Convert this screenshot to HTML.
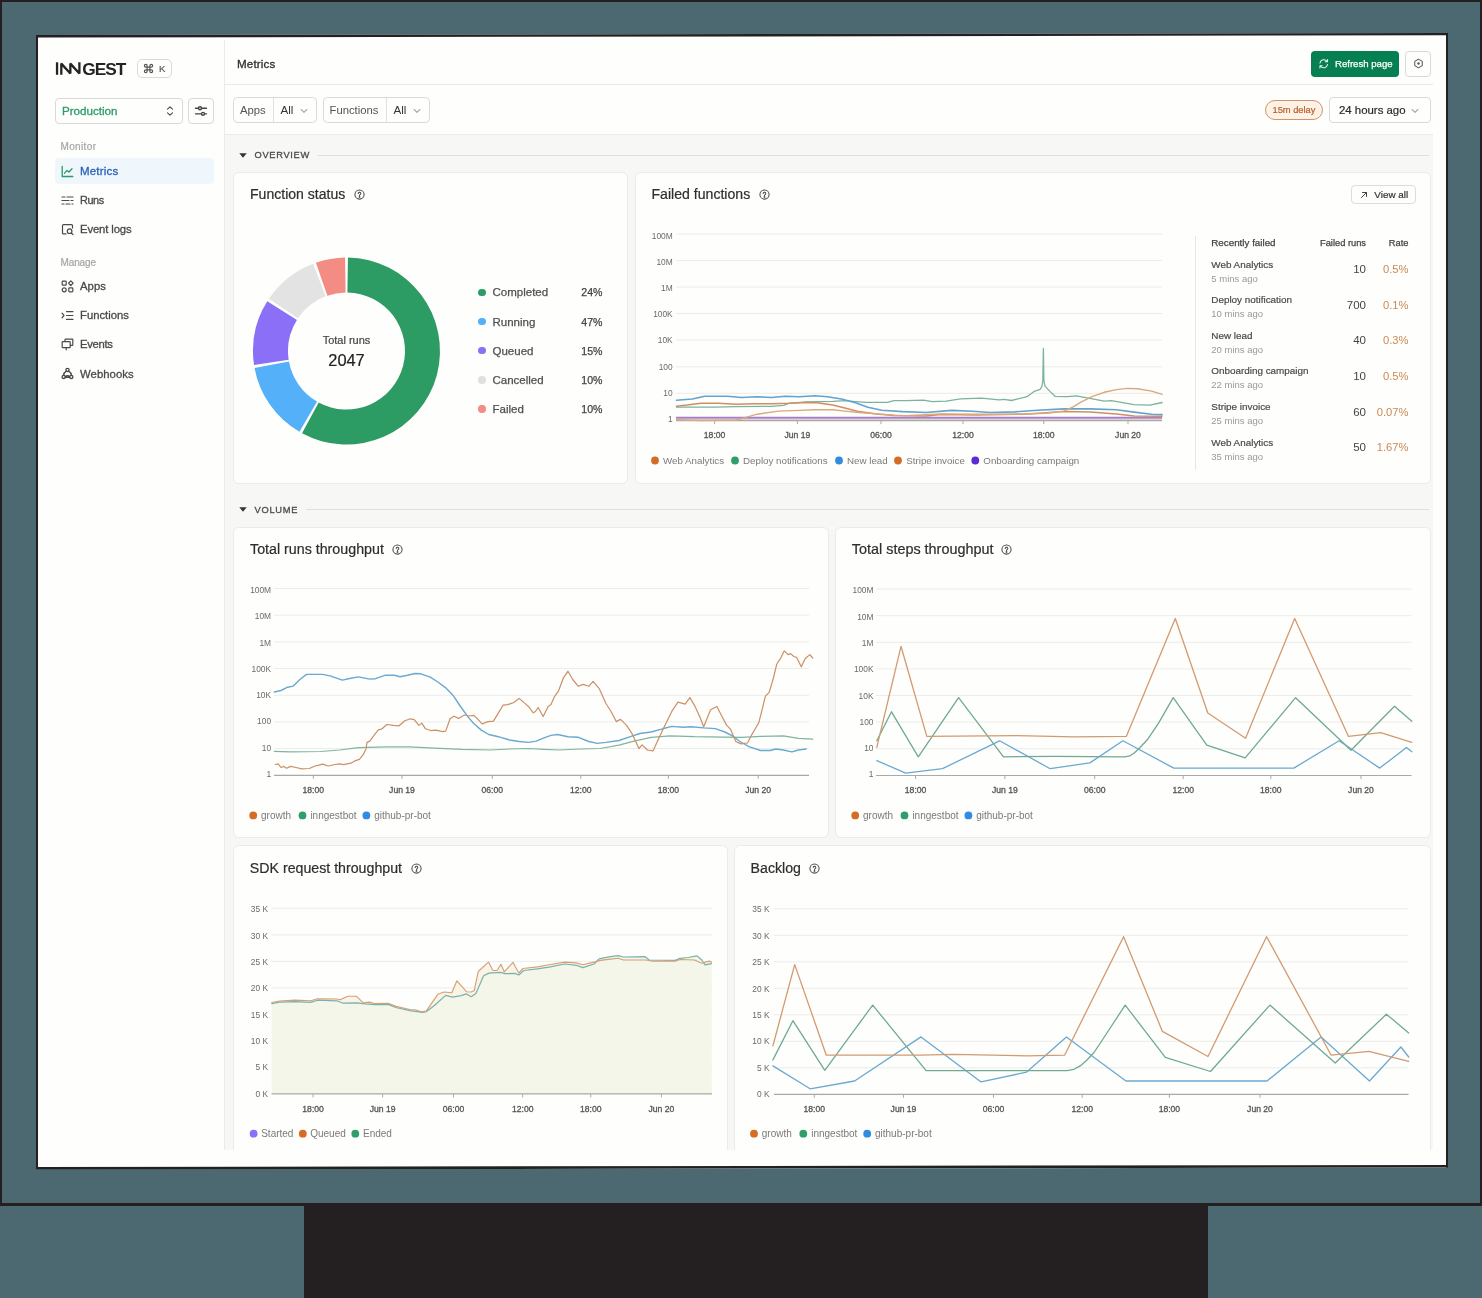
<!DOCTYPE html>
<html><head><meta charset="utf-8"><title>Metrics</title>
<style>
html,body{margin:0;padding:0;}
body{will-change:transform;width:1482px;height:1298px;overflow:hidden;background:#4c6972;font-family:"Liberation Sans",sans-serif;position:relative;}
div{box-sizing:border-box;}
svg text{font-family:"Liberation Sans",sans-serif;}
</style></head><body>
<div style="position:absolute;left:0px;top:0px;width:1482px;height:1206px;border:2px solid #242021;border-bottom-width:3px;background:#4c6972;"></div>
<div style="position:absolute;left:304px;top:1206px;width:904px;height:92px;background:#242021;"></div>
<div style="position:absolute;left:36px;top:33px;width:1412px;height:1136px;border-left:2px solid #242021;border-right:2px solid #242021;background:#fefefc;"></div>
<svg style="position:absolute;left:0;top:0" width="1482" height="1298" viewBox="0 0 1482 1298"><path d="M36 32.500L1448 32.500L1448 33L36 35.100Z" fill="#4c6972"/><path d="M36 35.100L1448 33L1448 35.300L36 37.600Z" fill="#242021"/><path d="M36 1167L1448 1165L1448 1167.600L36 1169.600Z" fill="#242021"/><path d="M36 1169.600L1448 1167.600L1448 1170L36 1170Z" fill="#4c6972"/></svg>
<div style="position:absolute;left:224px;top:40px;width:1px;height:1110px;background:#ebebe9;"></div>
<div style="position:absolute;left:225px;top:84px;width:1208px;height:1px;background:#e9e9e7;"></div>
<div style="position:absolute;left:225px;top:135px;width:1208px;height:1015px;background:#f7f7f6;"></div>
<div style="position:absolute;left:225px;top:134px;width:1208px;height:1px;background:#ececea;"></div>
<svg style="position:absolute;left:0;top:0" width="140" height="90" viewBox="0 0 140 90" fill="none" stroke="#232323" stroke-width="2.3" stroke-linejoin="miter" stroke-miterlimit="2"><path d="M57.050 62.300V74.800"/><path d="M61.300 74.800V63.600L70.350 73.500L70.350 63.600L79.400 73.500V62.300"/></svg>
<div style="position:absolute;left:82.2px;top:56.70px;height:24px;line-height:24px;font-size:17.3px;color:#232323;font-weight:700;white-space:nowrap;letter-spacing:-1.0px;">GEST</div>
<div style="position:absolute;left:136.5px;top:58.8px;width:35.5px;height:19.7px;border:1px solid #d9d9d7;border-radius:5px;background:#fefefc;"></div>
<svg style="position:absolute;left:143.200px;top:63.400px" width="11" height="11" viewBox="0 0 24 24" fill="none" stroke="#555" stroke-width="2.500"><path d="M9 9h6v6H9zM9 9V6a3 3 0 1 0-3 3h3zm6 0V6a3 3 0 1 1 3 3h-3zm0 6v3a3 3 0 1 0 3-3h-3zm-6 0v3a3 3 0 1 1-3-3h3z"/></svg>
<div style="position:absolute;left:159px;top:61.70px;height:14px;line-height:14px;font-size:9.6px;color:#606060;font-weight:400;white-space:nowrap;-webkit-text-stroke:0.2px #606060;">K</div>
<div style="position:absolute;left:55px;top:98px;width:128px;height:25.6px;border:1px solid #d9d9d7;border-radius:4px;background:#fefefc;"></div>
<div style="position:absolute;left:62px;top:103.30px;height:16px;line-height:16px;font-size:11.6px;color:#2a9a68;font-weight:400;white-space:nowrap;-webkit-text-stroke:0.3px #2a9a68;">Production</div>
<svg style="position:absolute;left:164.600px;top:105px" width="10" height="12" viewBox="0 0 10 12" fill="none" stroke="#4a4a4a" stroke-width="1.1" stroke-linecap="round" stroke-linejoin="round"><path d="M2.5 4.2 5 1.8l2.5 2.4M2.5 7.8 5 10.2l2.5-2.4"/></svg>
<div style="position:absolute;left:188px;top:98px;width:25.6px;height:25.6px;border:1px solid #d9d9d7;border-radius:4px;background:#fefefc;"></div>
<svg style="position:absolute;left:194px;top:104px" width="14" height="14" viewBox="0 0 14 14" fill="none" stroke="#444" stroke-width="1.35" stroke-linecap="round"><path d="M1.5 4.2h3M7.5 4.2h5M1.5 9.8h6M10.5 9.8h2"/><circle cx="6" cy="4.2" r="1.5"/><circle cx="9" cy="9.8" r="1.5"/></svg>
<div style="position:absolute;left:60.5px;top:140.30px;height:14px;line-height:14px;font-size:10px;color:#a5a5a5;font-weight:400;white-space:nowrap;letter-spacing:0.359px;-webkit-text-stroke:0.2px #a5a5a5;">Monitor</div>
<div style="position:absolute;left:55px;top:158px;width:159px;height:26px;background:#eff6fc;border-radius:4px;"></div>
<div style="position:absolute;left:80px;top:163.00px;height:16px;line-height:16px;font-size:11.5px;color:#2a62b8;font-weight:400;white-space:nowrap;letter-spacing:0.191px;-webkit-text-stroke:0.3px #2a62b8;">Metrics</div>
<div style="position:absolute;left:80px;top:192.10px;height:16px;line-height:16px;font-size:10.9px;color:#4a4a4a;font-weight:400;white-space:nowrap;letter-spacing:-0.415px;-webkit-text-stroke:0.3px #4a4a4a;">Runs</div>
<div style="position:absolute;left:80px;top:221.40px;height:16px;line-height:16px;font-size:11.3px;color:#4a4a4a;font-weight:400;white-space:nowrap;letter-spacing:-0.13px;-webkit-text-stroke:0.3px #4a4a4a;">Event logs</div>
<div style="position:absolute;left:60.5px;top:255.60px;height:14px;line-height:14px;font-size:10px;color:#a5a5a5;font-weight:400;white-space:nowrap;letter-spacing:-0.128px;-webkit-text-stroke:0.2px #a5a5a5;">Manage</div>
<div style="position:absolute;left:80px;top:278.10px;height:16px;line-height:16px;font-size:11.3px;color:#4a4a4a;font-weight:400;white-space:nowrap;letter-spacing:0.081px;-webkit-text-stroke:0.3px #4a4a4a;">Apps</div>
<div style="position:absolute;left:80px;top:307.20px;height:16px;line-height:16px;font-size:11.3px;color:#4a4a4a;font-weight:400;white-space:nowrap;letter-spacing:0.001px;-webkit-text-stroke:0.3px #4a4a4a;">Functions</div>
<div style="position:absolute;left:80px;top:336.40px;height:16px;line-height:16px;font-size:11.3px;color:#4a4a4a;font-weight:400;white-space:nowrap;letter-spacing:-0.309px;-webkit-text-stroke:0.3px #4a4a4a;">Events</div>
<div style="position:absolute;left:80px;top:365.50px;height:16px;line-height:16px;font-size:11.3px;color:#4a4a4a;font-weight:400;white-space:nowrap;letter-spacing:0.074px;-webkit-text-stroke:0.3px #4a4a4a;">Webhooks</div>
<svg style="position:absolute;left:61px;top:164.5px" width="13" height="13" viewBox="0 0 13 13" fill="none" stroke="#2a9a68" stroke-width="1.3" stroke-linecap="round" stroke-linejoin="round"><path d="M1.2 1.5v10h10.6"/><path d="M3.6 8.2 6 5.4l2 1.6 3-3.2"/></svg>
<svg style="position:absolute;left:61px;top:193.6px" width="13" height="13" viewBox="0 0 13 13" fill="none" stroke="#4a4a4a" stroke-width="1.2" stroke-linecap="round" stroke-linejoin="round"><path d="M1 3h3M6 3h6M1 6.5h7M10 6.5h2M1 10h2M5 10h4M11 10h1"/></svg>
<svg style="position:absolute;left:61px;top:222.9px" width="13" height="13" viewBox="0 0 13 13" fill="none" stroke="#4a4a4a" stroke-width="1.2" stroke-linecap="round" stroke-linejoin="round"><path d="M11.5 5V2.6a1 1 0 0 0-1-1h-8a1 1 0 0 0-1 1v7.3a1 1 0 0 0 1 1H5"/><circle cx="8.6" cy="8.2" r="2.3"/><path d="m10.4 10 1.6 1.6"/></svg>
<svg style="position:absolute;left:61px;top:279.6px" width="13" height="13" viewBox="0 0 13 13" fill="none" stroke="#4a4a4a" stroke-width="1.2" stroke-linecap="round" stroke-linejoin="round"><rect x="1.2" y="1.2" width="4" height="4" rx="0.8"/><path d="M9.800 0.900 12.100 3.200 9.800 5.500 7.500 3.200z"/><circle cx="3.2" cy="9.800" r="2"/><rect x="7.8" y="7.8" width="4" height="4" rx="0.8"/></svg>
<svg style="position:absolute;left:61px;top:308.7px" width="13" height="13" viewBox="0 0 13 13" fill="none" stroke="#4a4a4a" stroke-width="1.2" stroke-linecap="round" stroke-linejoin="round"><path d="m1 4.2 2 2.3-2 2.3M5.5 2.6H12M5.5 6.5H12M5.5 10.4H12"/></svg>
<svg style="position:absolute;left:61px;top:337.9px" width="13" height="13" viewBox="0 0 13 13" fill="none" stroke="#4a4a4a" stroke-width="1.2" stroke-linecap="round" stroke-linejoin="round"><path d="M4 3V1.8a.6.6 0 0 1 .6-.6h6.6a.6.6 0 0 1 .6.6v5a.6.6 0 0 1-.6.6H9.5"/><rect x="1.2" y="3.6" width="8" height="6" rx="0.7"/><path d="M5.2 9.6v2.2"/></svg>
<svg style="position:absolute;left:61px;top:366.5px" width="13" height="13" viewBox="0 0 13 13" fill="none" stroke="#4a4a4a" stroke-width="1.35" stroke-linecap="round" stroke-linejoin="round"><circle cx="6.5" cy="2.9" r="1.6"/><circle cx="2.7" cy="9.9" r="1.6"/><circle cx="10.3" cy="9.9" r="1.6"/><path d="M5.4 4.2C3.6 5.2 2.7 6.600 2.7 8.3M7.6 4.2C9.4 5.2 10.3 6.600 10.3 8.3M4.3 9.9C5.5 8.3 7.5 8.3 8.7 9.9M4.3 10.3h4.4"/></svg>
<div style="position:absolute;left:237px;top:56.30px;height:16px;line-height:16px;font-size:11.6px;color:#2e2e2e;font-weight:400;white-space:nowrap;letter-spacing:0.154px;-webkit-text-stroke:0.3px #2e2e2e;">Metrics</div>
<div style="position:absolute;left:1311px;top:51px;width:88px;height:26px;background:#067f52;border-radius:4px;"></div>
<svg style="position:absolute;left:1317.5px;top:58px" width="11.500" height="11.500" viewBox="0 0 12 12" fill="none" stroke="#e8f5ee" stroke-width="1.05" stroke-linecap="round" stroke-linejoin="round"><path d="M2 5.300A4.100 4.100 0 0 1 9.500 3.700M10 1.600v2.300H7.700M10 6.700A4.100 4.100 0 0 1 2.500 8.300M2 10.400V8.100h2.300"/></svg>
<div style="position:absolute;left:1335px;top:57.20px;height:14px;line-height:14px;font-size:9.6px;color:#fff;font-weight:400;white-space:nowrap;-webkit-text-stroke:0.25px #fff;">Refresh page</div>
<div style="position:absolute;left:1405px;top:50.7px;width:26px;height:26px;border:1px solid #d9d9d7;border-radius:4px;background:#fefefc;"></div>
<svg style="position:absolute;left:1412.500px;top:58.200px" width="11" height="11" viewBox="0 0 24 24" fill="none" stroke="#555" stroke-width="2.2" stroke-linejoin="round"><path d="M12 2.500 20.200 7.250v9.500L12 21.500 3.800 16.750v-9.500z"/><circle cx="12" cy="12" r="2.600" fill="#555" stroke="none"/></svg>
<div style="position:absolute;left:233px;top:97.3px;width:83.5px;height:25.5px;border:1px solid #d9d9d7;border-radius:4.5px;background:#fefefc;"></div>
<div style="position:absolute;left:272.5px;top:98.3px;width:1px;height:23.5px;background:#e0e0de;"></div>
<div style="position:absolute;left:240px;top:102.30px;height:16px;line-height:16px;font-size:11.3px;color:#555;font-weight:400;white-space:nowrap;">Apps</div>
<div style="position:absolute;left:280.5px;top:102.30px;height:16px;line-height:16px;font-size:11.6px;color:#333;font-weight:400;white-space:nowrap;">All</div>
<svg style="position:absolute;left:299.5px;top:107.5px" width="8" height="6" viewBox="0 0 8 6" fill="none" stroke="#a8a8a8" stroke-width="1.1" stroke-linecap="round" stroke-linejoin="round"><path d="M1.2 1.500 4 4.300l2.800-2.800"/></svg>
<div style="position:absolute;left:322.5px;top:97.3px;width:107px;height:25.5px;border:1px solid #d9d9d7;border-radius:4.5px;background:#fefefc;"></div>
<div style="position:absolute;left:385.5px;top:98.3px;width:1px;height:23.5px;background:#e0e0de;"></div>
<div style="position:absolute;left:329.5px;top:102.30px;height:16px;line-height:16px;font-size:11.3px;color:#555;font-weight:400;white-space:nowrap;">Functions</div>
<div style="position:absolute;left:393.5px;top:102.30px;height:16px;line-height:16px;font-size:11.6px;color:#333;font-weight:400;white-space:nowrap;">All</div>
<svg style="position:absolute;left:412.5px;top:107.5px" width="8" height="6" viewBox="0 0 8 6" fill="none" stroke="#a8a8a8" stroke-width="1.1" stroke-linecap="round" stroke-linejoin="round"><path d="M1.2 1.500 4 4.300l2.800-2.800"/></svg>
<div style="position:absolute;left:1265.3px;top:100.3px;width:58px;height:19.6px;border:1.4px solid #cf9468;border-radius:10px;background:#fdf2e5;"></div>
<div style="position:absolute;left:1272.5px;top:103.20px;height:14px;line-height:14px;font-size:9.3px;color:#b5612a;font-weight:400;white-space:nowrap;-webkit-text-stroke:0.2px #b5612a;">15m delay</div>
<div style="position:absolute;left:1329px;top:97px;width:102px;height:26px;border:1px solid #d9d9d7;border-radius:4px;background:#fefefc;"></div>
<div style="position:absolute;left:1339px;top:102.30px;height:16px;line-height:16px;font-size:11.4px;color:#2b2b2b;font-weight:400;white-space:nowrap;-webkit-text-stroke:0.2px #2b2b2b;">24 hours ago</div>
<svg style="position:absolute;left:1411px;top:107.500px" width="8" height="6" viewBox="0 0 8 6" fill="none" stroke="#a8a8a8" stroke-width="1.1" stroke-linecap="round" stroke-linejoin="round"><path d="M1.2 1.500 4 4.300l2.800-2.800"/></svg>
<svg style="position:absolute;left:239px;top:152.7px" width="8" height="5" viewBox="0 0 8 5"><path d="M0.300 0.300h7.400L4 4.700z" fill="#333"/></svg>
<div style="position:absolute;left:254.5px;top:148.20px;height:14px;line-height:14px;font-size:9.3px;color:#4a4a4a;font-weight:400;white-space:nowrap;letter-spacing:0.692px;-webkit-text-stroke:0.3px #4a4a4a;">OVERVIEW</div>
<div style="position:absolute;left:318px;top:154.6px;width:1111px;height:1px;background:#dfdfdd;"></div>
<svg style="position:absolute;left:239px;top:507.0px" width="8" height="5" viewBox="0 0 8 5"><path d="M0.300 0.300h7.400L4 4.700z" fill="#333"/></svg>
<div style="position:absolute;left:254.5px;top:502.50px;height:14px;line-height:14px;font-size:9.3px;color:#4a4a4a;font-weight:400;white-space:nowrap;letter-spacing:0.745px;-webkit-text-stroke:0.3px #4a4a4a;">VOLUME</div>
<div style="position:absolute;left:306px;top:508.9px;width:1123px;height:1px;background:#dfdfdd;"></div>
<div style="position:absolute;left:233px;top:172px;width:395px;height:312px;border:1px solid #ebebe9;border-radius:6px;background:#fefefc;"></div>
<div style="position:absolute;left:635px;top:172px;width:796px;height:312px;border:1px solid #ebebe9;border-radius:6px;background:#fefefc;"></div>
<div style="position:absolute;left:233px;top:527px;width:595.5px;height:311px;border:1px solid #ebebe9;border-radius:6px;background:#fefefc;"></div>
<div style="position:absolute;left:835px;top:527px;width:596px;height:311px;border:1px solid #ebebe9;border-radius:6px;background:#fefefc;"></div>
<div style="position:absolute;left:233px;top:845px;width:495px;height:305px;border:1px solid #ebebe9;border-bottom:none;border-radius:6px 6px 0 0;background:#fefefc;"></div>
<div style="position:absolute;left:734px;top:845px;width:697px;height:305px;border:1px solid #ebebe9;border-bottom:none;border-radius:6px 6px 0 0;background:#fefefc;"></div>
<div style="position:absolute;left:250px;top:184.00px;height:20px;line-height:20px;font-size:14.05px;color:#2e2e2e;font-weight:400;white-space:nowrap;-webkit-text-stroke:0.2px #2e2e2e;">Function status</div>
<svg style="position:absolute;left:354.0px;top:189.0px" width="11" height="11" viewBox="0 0 11 11" fill="none" stroke="#4a4a4a" stroke-width="1.05"><circle cx="5.500" cy="5.500" r="4.600"/><path d="M4.200 4.500a1.300 1.300 0 1 1 1.900 1.150c-.4.230-.6.500-.6.900" stroke-linecap="round"/><circle cx="5.500" cy="7.900" r="0.400" fill="#4a4a4a"/></svg>
<div style="position:absolute;left:651.5px;top:184.00px;height:20px;line-height:20px;font-size:14.1px;color:#2e2e2e;font-weight:400;white-space:nowrap;-webkit-text-stroke:0.2px #2e2e2e;">Failed functions</div>
<svg style="position:absolute;left:758.5px;top:189.0px" width="11" height="11" viewBox="0 0 11 11" fill="none" stroke="#4a4a4a" stroke-width="1.05"><circle cx="5.500" cy="5.500" r="4.600"/><path d="M4.200 4.500a1.300 1.300 0 1 1 1.900 1.150c-.4.230-.6.500-.6.900" stroke-linecap="round"/><circle cx="5.500" cy="7.900" r="0.400" fill="#4a4a4a"/></svg>
<div style="position:absolute;left:250px;top:539.00px;height:20px;line-height:20px;font-size:14.25px;color:#2e2e2e;font-weight:400;white-space:nowrap;-webkit-text-stroke:0.2px #2e2e2e;">Total runs throughput</div>
<svg style="position:absolute;left:391.5px;top:544.0px" width="11" height="11" viewBox="0 0 11 11" fill="none" stroke="#4a4a4a" stroke-width="1.05"><circle cx="5.500" cy="5.500" r="4.600"/><path d="M4.200 4.500a1.300 1.300 0 1 1 1.900 1.150c-.4.230-.6.500-.6.900" stroke-linecap="round"/><circle cx="5.500" cy="7.900" r="0.400" fill="#4a4a4a"/></svg>
<div style="position:absolute;left:851.8px;top:539.00px;height:20px;line-height:20px;font-size:14.4px;color:#2e2e2e;font-weight:400;white-space:nowrap;-webkit-text-stroke:0.2px #2e2e2e;">Total steps throughput</div>
<svg style="position:absolute;left:1001.0px;top:544.0px" width="11" height="11" viewBox="0 0 11 11" fill="none" stroke="#4a4a4a" stroke-width="1.05"><circle cx="5.500" cy="5.500" r="4.600"/><path d="M4.200 4.500a1.300 1.300 0 1 1 1.900 1.150c-.4.230-.6.500-.6.900" stroke-linecap="round"/><circle cx="5.500" cy="7.900" r="0.400" fill="#4a4a4a"/></svg>
<div style="position:absolute;left:249.8px;top:858.00px;height:20px;line-height:20px;font-size:14.2px;color:#2e2e2e;font-weight:400;white-space:nowrap;-webkit-text-stroke:0.2px #2e2e2e;">SDK request throughput</div>
<svg style="position:absolute;left:410.5px;top:863.0px" width="11" height="11" viewBox="0 0 11 11" fill="none" stroke="#4a4a4a" stroke-width="1.05"><circle cx="5.500" cy="5.500" r="4.600"/><path d="M4.200 4.500a1.300 1.300 0 1 1 1.900 1.150c-.4.230-.6.500-.6.900" stroke-linecap="round"/><circle cx="5.500" cy="7.900" r="0.400" fill="#4a4a4a"/></svg>
<div style="position:absolute;left:750.6px;top:858.00px;height:20px;line-height:20px;font-size:14.15px;color:#2e2e2e;font-weight:400;white-space:nowrap;-webkit-text-stroke:0.2px #2e2e2e;">Backlog</div>
<svg style="position:absolute;left:809.0px;top:863.0px" width="11" height="11" viewBox="0 0 11 11" fill="none" stroke="#4a4a4a" stroke-width="1.05"><circle cx="5.500" cy="5.500" r="4.600"/><path d="M4.200 4.500a1.300 1.300 0 1 1 1.900 1.150c-.4.230-.6.500-.6.900" stroke-linecap="round"/><circle cx="5.500" cy="7.900" r="0.400" fill="#4a4a4a"/></svg>
<div style="position:absolute;left:1351px;top:185px;width:64.5px;height:19px;border:1px solid #dcdcda;border-radius:4px;background:#fefefc;"></div>
<svg style="position:absolute;left:1360px;top:190.500px" width="8" height="8" viewBox="0 0 8 8" fill="none" stroke="#444" stroke-width="1" stroke-linecap="round" stroke-linejoin="round"><path d="M1.500 6.500 6.500 1.500M2.500 1.500h4v4"/></svg>
<div style="position:absolute;left:1374.3px;top:187.50px;height:14px;line-height:14px;font-size:9.9px;color:#333;font-weight:400;white-space:nowrap;-webkit-text-stroke:0.2px #333;">View all</div>
<svg style="position:absolute;left:0;top:0" width="1482" height="1298" viewBox="0 0 1482 1298"><path d="M347.97 257.51A93.5 93.5 0 1 1 302.03 433.25L318.68 402.46A58.5 58.5 0 1 0 347.42 292.51Z" fill="#2d9b64"/><path d="M299.47 431.81A93.5 93.5 0 0 1 254.54 367.88L288.96 361.56A58.5 58.5 0 0 0 317.07 401.56Z" fill="#54b0f8"/><path d="M254.05 364.98A93.5 93.5 0 0 1 267.29 301.31L296.94 319.91A58.5 58.5 0 0 0 288.66 359.75Z" fill="#8b6ff6"/><path d="M268.89 298.85A93.5 93.5 0 0 1 313.14 263.65L325.63 296.35A58.5 58.5 0 0 0 297.94 318.37Z" fill="#e3e3e3"/><path d="M315.91 262.65A93.5 93.5 0 0 1 345.03 257.51L345.58 292.51A58.5 58.5 0 0 0 327.36 295.72Z" fill="#f38d84"/></svg>
<div style="position:absolute;left:146.5px;width:400px;text-align:center;top:332.00px;height:16px;line-height:16px;font-size:11px;color:#444;font-weight:400;white-space:nowrap;-webkit-text-stroke:0.2px #444;">Total runs</div>
<div style="position:absolute;left:146.5px;width:400px;text-align:center;top:348.50px;height:22px;line-height:22px;font-size:16.4px;color:#222;font-weight:400;white-space:nowrap;-webkit-text-stroke:0.2px #222;">2047</div>
<div style="position:absolute;left:478.3px;top:288.8px;width:7.4px;height:7.4px;background:#2d9b64;border-radius:50%;"></div>
<div style="position:absolute;left:492.5px;top:284.40px;height:16px;line-height:16px;font-size:11.5px;color:#505050;font-weight:400;white-space:nowrap;-webkit-text-stroke:0.25px #505050;">Completed</div>
<div style="position:absolute;right:879.5px;top:285.40px;height:14px;line-height:14px;font-size:10.6px;color:#444;font-weight:400;white-space:nowrap;-webkit-text-stroke:0.25px #444;">24%</div>
<div style="position:absolute;left:478.3px;top:317.95px;width:7.4px;height:7.4px;background:#54b0f8;border-radius:50%;"></div>
<div style="position:absolute;left:492.5px;top:313.60px;height:16px;line-height:16px;font-size:11.5px;color:#505050;font-weight:400;white-space:nowrap;-webkit-text-stroke:0.25px #505050;">Running</div>
<div style="position:absolute;right:879.5px;top:314.60px;height:14px;line-height:14px;font-size:10.6px;color:#444;font-weight:400;white-space:nowrap;-webkit-text-stroke:0.25px #444;">47%</div>
<div style="position:absolute;left:478.3px;top:347.1px;width:7.4px;height:7.4px;background:#8b6ff6;border-radius:50%;"></div>
<div style="position:absolute;left:492.5px;top:342.60px;height:16px;line-height:16px;font-size:11.5px;color:#505050;font-weight:400;white-space:nowrap;-webkit-text-stroke:0.25px #505050;">Queued</div>
<div style="position:absolute;right:879.5px;top:343.60px;height:14px;line-height:14px;font-size:10.6px;color:#444;font-weight:400;white-space:nowrap;-webkit-text-stroke:0.25px #444;">15%</div>
<div style="position:absolute;left:478.3px;top:376.25px;width:7.4px;height:7.4px;background:#e0e0e0;border-radius:50%;"></div>
<div style="position:absolute;left:492.5px;top:372.00px;height:16px;line-height:16px;font-size:11.5px;color:#505050;font-weight:400;white-space:nowrap;-webkit-text-stroke:0.25px #505050;">Cancelled</div>
<div style="position:absolute;right:879.5px;top:373.00px;height:14px;line-height:14px;font-size:10.6px;color:#444;font-weight:400;white-space:nowrap;-webkit-text-stroke:0.25px #444;">10%</div>
<div style="position:absolute;left:478.3px;top:405.40000000000003px;width:7.4px;height:7.4px;background:#f38d84;border-radius:50%;"></div>
<div style="position:absolute;left:492.5px;top:401.00px;height:16px;line-height:16px;font-size:11.5px;color:#505050;font-weight:400;white-space:nowrap;-webkit-text-stroke:0.25px #505050;">Failed</div>
<div style="position:absolute;right:879.5px;top:402.00px;height:14px;line-height:14px;font-size:10.6px;color:#444;font-weight:400;white-space:nowrap;-webkit-text-stroke:0.25px #444;">10%</div>
<div style="position:absolute;left:1195px;top:236px;width:1px;height:234px;background:#e6e6e4;"></div>
<div style="position:absolute;left:1211.3px;top:235.80px;height:14px;line-height:14px;font-size:9.8px;color:#444;font-weight:400;white-space:nowrap;-webkit-text-stroke:0.25px #444;">Recently failed</div>
<div style="position:absolute;right:116px;top:235.80px;height:14px;line-height:14px;font-size:9.3px;color:#444;font-weight:400;white-space:nowrap;-webkit-text-stroke:0.25px #444;">Failed runs</div>
<div style="position:absolute;right:73.5px;top:235.80px;height:14px;line-height:14px;font-size:9.3px;color:#444;font-weight:400;white-space:nowrap;-webkit-text-stroke:0.25px #444;">Rate</div>
<div style="position:absolute;left:1211.3px;top:257.60px;height:14px;line-height:14px;font-size:9.9px;color:#4a4a4a;font-weight:400;white-space:nowrap;-webkit-text-stroke:0.2px #4a4a4a;">Web Analytics</div>
<div style="position:absolute;left:1211.3px;top:271.60px;height:14px;line-height:14px;font-size:9.5px;color:#9a9a9a;font-weight:400;white-space:nowrap;">5 mins ago</div>
<div style="position:absolute;right:116px;top:261.20px;height:16px;line-height:16px;font-size:11.5px;color:#444;font-weight:400;white-space:nowrap;">10</div>
<div style="position:absolute;right:73.5px;top:261.20px;height:16px;line-height:16px;font-size:11.2px;color:#c98a58;font-weight:400;white-space:nowrap;">0.5%</div>
<div style="position:absolute;left:1211.3px;top:293.20px;height:14px;line-height:14px;font-size:9.9px;color:#4a4a4a;font-weight:400;white-space:nowrap;-webkit-text-stroke:0.2px #4a4a4a;">Deploy notification</div>
<div style="position:absolute;left:1211.3px;top:307.20px;height:14px;line-height:14px;font-size:9.5px;color:#9a9a9a;font-weight:400;white-space:nowrap;">10 mins ago</div>
<div style="position:absolute;right:116px;top:296.80px;height:16px;line-height:16px;font-size:11.5px;color:#444;font-weight:400;white-space:nowrap;">700</div>
<div style="position:absolute;right:73.5px;top:296.80px;height:16px;line-height:16px;font-size:11.2px;color:#c98a58;font-weight:400;white-space:nowrap;">0.1%</div>
<div style="position:absolute;left:1211.3px;top:328.80px;height:14px;line-height:14px;font-size:9.9px;color:#4a4a4a;font-weight:400;white-space:nowrap;-webkit-text-stroke:0.2px #4a4a4a;">New lead</div>
<div style="position:absolute;left:1211.3px;top:342.80px;height:14px;line-height:14px;font-size:9.5px;color:#9a9a9a;font-weight:400;white-space:nowrap;">20 mins ago</div>
<div style="position:absolute;right:116px;top:332.40px;height:16px;line-height:16px;font-size:11.5px;color:#444;font-weight:400;white-space:nowrap;">40</div>
<div style="position:absolute;right:73.5px;top:332.40px;height:16px;line-height:16px;font-size:11.2px;color:#c98a58;font-weight:400;white-space:nowrap;">0.3%</div>
<div style="position:absolute;left:1211.3px;top:364.40px;height:14px;line-height:14px;font-size:9.9px;color:#4a4a4a;font-weight:400;white-space:nowrap;-webkit-text-stroke:0.2px #4a4a4a;">Onboarding campaign</div>
<div style="position:absolute;left:1211.3px;top:378.40px;height:14px;line-height:14px;font-size:9.5px;color:#9a9a9a;font-weight:400;white-space:nowrap;">22 mins ago</div>
<div style="position:absolute;right:116px;top:368.00px;height:16px;line-height:16px;font-size:11.5px;color:#444;font-weight:400;white-space:nowrap;">10</div>
<div style="position:absolute;right:73.5px;top:368.00px;height:16px;line-height:16px;font-size:11.2px;color:#c98a58;font-weight:400;white-space:nowrap;">0.5%</div>
<div style="position:absolute;left:1211.3px;top:400.00px;height:14px;line-height:14px;font-size:9.9px;color:#4a4a4a;font-weight:400;white-space:nowrap;-webkit-text-stroke:0.2px #4a4a4a;">Stripe invoice</div>
<div style="position:absolute;left:1211.3px;top:414.00px;height:14px;line-height:14px;font-size:9.5px;color:#9a9a9a;font-weight:400;white-space:nowrap;">25 mins ago</div>
<div style="position:absolute;right:116px;top:403.60px;height:16px;line-height:16px;font-size:11.5px;color:#444;font-weight:400;white-space:nowrap;">60</div>
<div style="position:absolute;right:73.5px;top:403.60px;height:16px;line-height:16px;font-size:11.2px;color:#c98a58;font-weight:400;white-space:nowrap;">0.07%</div>
<div style="position:absolute;left:1211.3px;top:435.60px;height:14px;line-height:14px;font-size:9.9px;color:#4a4a4a;font-weight:400;white-space:nowrap;-webkit-text-stroke:0.2px #4a4a4a;">Web Analytics</div>
<div style="position:absolute;left:1211.3px;top:449.60px;height:14px;line-height:14px;font-size:9.5px;color:#9a9a9a;font-weight:400;white-space:nowrap;">35 mins ago</div>
<div style="position:absolute;right:116px;top:439.20px;height:16px;line-height:16px;font-size:11.5px;color:#444;font-weight:400;white-space:nowrap;">50</div>
<div style="position:absolute;right:73.5px;top:439.20px;height:16px;line-height:16px;font-size:11.2px;color:#c98a58;font-weight:400;white-space:nowrap;">1.67%</div><svg style="position:absolute;left:0;top:0" width="1482" height="1298" viewBox="0 0 1482 1298">
<line x1="676" y1="234" x2="1162" y2="234" stroke="#ececea" stroke-width="1"/>
<line x1="676" y1="260.6" x2="1162" y2="260.6" stroke="#ececea" stroke-width="1"/>
<line x1="676" y1="287" x2="1162" y2="287" stroke="#ececea" stroke-width="1"/>
<line x1="676" y1="313.5" x2="1162" y2="313.5" stroke="#ececea" stroke-width="1"/>
<line x1="676" y1="340" x2="1162" y2="340" stroke="#ececea" stroke-width="1"/>
<line x1="676" y1="366.8" x2="1162" y2="366.8" stroke="#ececea" stroke-width="1"/>
<line x1="676" y1="393.3" x2="1162" y2="393.3" stroke="#ececea" stroke-width="1"/>
<line x1="676" y1="420.6" x2="1162" y2="420.6" stroke="#a9a9a9" stroke-width="1.2"/>
<text x="672.7" y="238.70" font-size="8.4" fill="#6a6a6a" text-anchor="end">100M</text>
<text x="672.7" y="264.89" font-size="8.4" fill="#6a6a6a" text-anchor="end">10M</text>
<text x="672.7" y="291.08" font-size="8.4" fill="#6a6a6a" text-anchor="end">1M</text>
<text x="672.7" y="317.27" font-size="8.4" fill="#6a6a6a" text-anchor="end">100K</text>
<text x="672.7" y="343.46" font-size="8.4" fill="#6a6a6a" text-anchor="end">10K</text>
<text x="672.7" y="369.65" font-size="8.4" fill="#6a6a6a" text-anchor="end">100</text>
<text x="672.7" y="395.84" font-size="8.4" fill="#6a6a6a" text-anchor="end">10</text>
<text x="672.7" y="422.03" font-size="8.4" fill="#6a6a6a" text-anchor="end">1</text>
<line x1="714.6" y1="420.6" x2="714.6" y2="424.1" stroke="#a9a9a9" stroke-width="1"/>
<text x="714.6" y="437.8" font-size="8.6" fill="#555" text-anchor="middle" stroke="#555" stroke-width="0.3">18:00</text>
<line x1="797.4" y1="420.6" x2="797.4" y2="424.1" stroke="#a9a9a9" stroke-width="1"/>
<text x="797.4" y="437.8" font-size="8.6" fill="#555" text-anchor="middle" stroke="#555" stroke-width="0.3">Jun 19</text>
<line x1="881" y1="420.6" x2="881" y2="424.1" stroke="#a9a9a9" stroke-width="1"/>
<text x="881" y="437.8" font-size="8.6" fill="#555" text-anchor="middle" stroke="#555" stroke-width="0.3">06:00</text>
<line x1="963" y1="420.6" x2="963" y2="424.1" stroke="#a9a9a9" stroke-width="1"/>
<text x="963" y="437.8" font-size="8.6" fill="#555" text-anchor="middle" stroke="#555" stroke-width="0.3">12:00</text>
<line x1="1043.8" y1="420.6" x2="1043.8" y2="424.1" stroke="#a9a9a9" stroke-width="1"/>
<text x="1043.8" y="437.8" font-size="8.6" fill="#555" text-anchor="middle" stroke="#555" stroke-width="0.3">18:00</text>
<line x1="1128" y1="420.6" x2="1128" y2="424.1" stroke="#a9a9a9" stroke-width="1"/>
<text x="1128" y="437.8" font-size="8.6" fill="#555" text-anchor="middle" stroke="#555" stroke-width="0.3">Jun 20</text>
<line x1="676" y1="417.8" x2="1162" y2="417.8" stroke="#a47bd6" stroke-width="2"/>
<line x1="676" y1="419.2" x2="1162" y2="419.2" stroke="#c9b9a6" stroke-width="0.9"/>
<path d="M676.5 407.2L692.3 407.2L715.1 407.2L736.2 406.7L771.3 406.3L783.5 405.4L788.8 403.3L806.4 401.9L832.7 401.4L845.0 400.7L855.5 401.6L866.0 402.3L887.0 402.3L894.1 400.7L906.0 400.7L923.5 400.2L932.3 401.6L946.4 401.1L960.4 398.8L981.4 398.1L999.0 399.8L1004.2 399.3L1011.3 400.5L1027.0 396.7L1034.1 391.4L1040.2 389.3L1042.0 386.1L1042.8 380.9L1043.4 348.4L1043.9 380.9L1045.0 386.1L1049.9 391.4L1055.1 396.3L1067.4 396.7L1076.2 395.8L1088.5 398.1L1104.2 401.1L1111.3 400.7L1134.0 404.6L1149.9 405.1L1162.1 402.5" fill="none" stroke="#7bb3a0" stroke-width="1.3" stroke-linejoin="round" stroke-linecap="round" opacity="1"/>
<path d="M676.5 400.2L692.3 399.0L704.6 396.3L727.4 396.3L741.4 397.5L757.2 396.7L771.3 397.5L785.3 396.3L799.3 396.7L815.1 395.8L827.4 396.7L841.4 399.0L855.5 402.8L867.8 407.2L881.8 410.2L902.8 411.6L926.0 412.5L951.6 410.4L972.7 411.2L990.2 412.5L1014.8 411.9L1037.6 410.2L1063.9 408.9L1090.2 408.9L1116.5 409.8L1134.0 412.1L1151.6 414.2L1162.1 414.6" fill="none" stroke="#62a3d0" stroke-width="1.6" stroke-linejoin="round" stroke-linecap="round" opacity="1"/>
<path d="M676.5 406.3L687.1 405.1L701.1 403.2L718.6 403.3L736.2 404.2L753.7 403.7L771.3 403.7L788.8 403.3L806.4 402.5L816.9 402.8L832.7 405.1L844.9 408.1L857.2 411.2L876.5 413.9L894.1 415.4L926.0 416.0L941.0 414.6L976.0 415.1L1028.8 413.9L1063.9 411.6L1090.2 412.1L1116.5 413.9L1134.0 416.0L1162.0 416.3" fill="none" stroke="#cf8f62" stroke-width="1.5" stroke-linejoin="round" stroke-linecap="round" opacity="1"/>
<path d="M676.5 419.8L701.1 420.5L736.2 420.0L745.0 417.7L757.2 414.2L778.3 411.1L799.3 410.4L815.1 409.8L832.7 409.8L844.9 411.1L859.0 412.5L876.5 413.9L894.1 415.1L906.0 415.6L941.0 413.9L976.2 414.2L1011.3 414.2L1046.4 413.3L1063.9 411.1L1072.7 407.2L1081.4 401.9L1092.0 396.7L1104.2 392.3L1116.5 389.6L1127.1 388.4L1137.6 388.8L1151.6 391.1L1162.1 394.4" fill="none" stroke="#dba77e" stroke-width="1.4" stroke-linejoin="round" stroke-linecap="round" opacity="1"/>
<circle cx="655" cy="460.5" r="3.9" fill="#d46c25"/>
<text x="663" y="464.2" font-size="9.75" fill="#7a7a7a">Web Analytics</text>
<circle cx="735" cy="460.5" r="3.9" fill="#2f9e6c"/>
<text x="743" y="464.2" font-size="9.75" fill="#7a7a7a">Deploy notifications</text>
<circle cx="839" cy="460.5" r="3.9" fill="#2f8ce0"/>
<text x="847" y="464.2" font-size="9.75" fill="#7a7a7a">New lead</text>
<circle cx="898" cy="460.5" r="3.9" fill="#d46c25"/>
<text x="906.3" y="464.2" font-size="9.75" fill="#7a7a7a">Stripe invoice</text>
<circle cx="975.3" cy="460.5" r="3.9" fill="#5a2bd8"/>
<text x="983.3" y="464.2" font-size="9.75" fill="#7a7a7a">Onboarding campaign</text>
<line x1="274" y1="588.5" x2="809" y2="588.5" stroke="#ececea" stroke-width="1"/>
<line x1="274" y1="615.2" x2="809" y2="615.2" stroke="#ececea" stroke-width="1"/>
<line x1="274" y1="641.9" x2="809" y2="641.9" stroke="#ececea" stroke-width="1"/>
<line x1="274" y1="668.6" x2="809" y2="668.6" stroke="#ececea" stroke-width="1"/>
<line x1="274" y1="695.3" x2="809" y2="695.3" stroke="#ececea" stroke-width="1"/>
<line x1="274" y1="721.9" x2="809" y2="721.9" stroke="#ececea" stroke-width="1"/>
<line x1="274" y1="748.6" x2="809" y2="748.6" stroke="#ececea" stroke-width="1"/>
<line x1="274" y1="775.3" x2="809" y2="775.3" stroke="#a9a9a9" stroke-width="1.2"/>
<text x="271.1" y="593.00" font-size="8.4" fill="#6a6a6a" text-anchor="end">100M</text>
<text x="271.1" y="619.28" font-size="8.4" fill="#6a6a6a" text-anchor="end">10M</text>
<text x="271.1" y="645.56" font-size="8.4" fill="#6a6a6a" text-anchor="end">1M</text>
<text x="271.1" y="671.84" font-size="8.4" fill="#6a6a6a" text-anchor="end">100K</text>
<text x="271.1" y="698.12" font-size="8.4" fill="#6a6a6a" text-anchor="end">10K</text>
<text x="271.1" y="724.40" font-size="8.4" fill="#6a6a6a" text-anchor="end">100</text>
<text x="271.1" y="750.68" font-size="8.4" fill="#6a6a6a" text-anchor="end">10</text>
<text x="271.1" y="776.96" font-size="8.4" fill="#6a6a6a" text-anchor="end">1</text>
<line x1="313.3" y1="775.3" x2="313.3" y2="778.8" stroke="#a9a9a9" stroke-width="1"/>
<text x="313.3" y="792.8" font-size="8.6" fill="#555" text-anchor="middle" stroke="#555" stroke-width="0.3">18:00</text>
<line x1="402" y1="775.3" x2="402" y2="778.8" stroke="#a9a9a9" stroke-width="1"/>
<text x="402" y="792.8" font-size="8.6" fill="#555" text-anchor="middle" stroke="#555" stroke-width="0.3">Jun 19</text>
<line x1="492.3" y1="775.3" x2="492.3" y2="778.8" stroke="#a9a9a9" stroke-width="1"/>
<text x="492.3" y="792.8" font-size="8.6" fill="#555" text-anchor="middle" stroke="#555" stroke-width="0.3">06:00</text>
<line x1="580.8" y1="775.3" x2="580.8" y2="778.8" stroke="#a9a9a9" stroke-width="1"/>
<text x="580.8" y="792.8" font-size="8.6" fill="#555" text-anchor="middle" stroke="#555" stroke-width="0.3">12:00</text>
<line x1="668.4" y1="775.3" x2="668.4" y2="778.8" stroke="#a9a9a9" stroke-width="1"/>
<text x="668.4" y="792.8" font-size="8.6" fill="#555" text-anchor="middle" stroke="#555" stroke-width="0.3">18:00</text>
<line x1="758.2" y1="775.3" x2="758.2" y2="778.8" stroke="#a9a9a9" stroke-width="1"/>
<text x="758.2" y="792.8" font-size="8.6" fill="#555" text-anchor="middle" stroke="#555" stroke-width="0.3">Jun 20</text>
<path d="M274.4 751.3L290.5 751.9L320.7 751.5L339.6 750.0L358.5 747.7L386.8 746.8L409.5 746.8L434.0 748.1L462.4 749.4L490.7 750.0L509.6 749.0L528.5 748.5L544.0 749.4L558.6 750.0L581.2 749.0L600.1 748.5L619.0 745.2L634.1 741.1L651.1 737.3L670.0 735.8L694.6 736.7L722.9 737.1L741.8 737.3L760.7 736.4L783.4 735.8L798.5 738.3L812.7 739.2" fill="none" stroke="#7fb59d" stroke-width="1.25" stroke-linejoin="round" stroke-linecap="round" opacity="1"/>
<path d="M274.4 692.0L281.0 690.5L287.6 687.2L293.3 686.1L299.9 679.5L306.5 674.4L322.6 674.4L330.1 675.9L342.4 680.1L350.9 678.2L358.5 676.9L369.8 679.1L375.5 678.7L384.9 675.3L394.4 675.3L400.0 676.7L407.6 675.3L415.1 673.5L420.8 673.8L430.3 677.2L437.8 682.0L445.4 687.6L452.9 695.2L460.5 706.5L468.0 716.9L473.7 723.5L481.3 730.1L488.8 734.5L498.3 736.7L509.6 740.0L519.1 741.5L528.5 742.4L536.1 741.1L543.4 738.1L551.0 735.4L557.6 734.5L568.0 736.7L578.4 737.3L588.8 741.5L597.3 743.4L605.8 742.4L619.0 740.5L630.4 736.7L639.8 733.5L651.1 732.0L662.5 728.8L671.9 726.4L683.3 727.3L690.8 726.7L704.0 727.9L715.4 728.6L724.8 732.0L732.4 735.8L739.9 741.5L749.4 746.8L760.7 750.5L770.2 750.5L775.8 749.0L783.4 750.0L791.9 751.9L798.5 750.0L806.1 749.0" fill="none" stroke="#6aa9d0" stroke-width="1.4" stroke-linejoin="round" stroke-linecap="round" opacity="1"/>
<path d="M275.3 764.5L278.2 763.8L281.0 767.5L283.8 766.4L286.7 768.3L290.5 766.4L296.1 767.5L301.8 768.9L309.3 768.5L315.0 766.0L318.8 765.1L322.6 764.1L328.2 766.0L334.8 764.5L339.6 763.8L343.4 764.7L350.9 763.2L354.7 760.9L359.4 759.4L363.2 754.7L366.0 749.0L367.0 742.4L369.8 741.1L373.6 735.8L378.3 729.8L382.1 728.8L386.8 724.5L393.4 725.4L399.1 725.8L404.8 720.7L410.4 718.8L414.2 719.7L418.9 725.4L421.8 723.1L425.5 728.8L431.2 730.7L435.9 730.1L442.5 731.6L445.7 731.1L450.1 718.8L453.9 716.3L458.6 718.4L464.3 715.0L469.0 716.0L473.7 715.4L477.5 718.8L482.2 723.9L487.9 721.6L493.5 721.1L498.3 713.1L503.0 705.2L507.7 704.6L513.4 702.7L519.1 698.4L524.7 703.1L529.4 707.5L533.2 712.8L535.5 711.5L538.2 707.5L543.1 716.5L548.2 706.5L551.0 704.6L554.8 696.1L558.6 690.8L563.3 678.2L568.0 671.2L572.7 679.5L578.4 686.3L583.1 684.4L588.8 686.3L593.1 681.4L599.2 688.6L605.8 703.3L611.5 712.2L616.2 721.6L620.5 719.4L626.6 725.4L632.2 733.9L638.9 748.6L642.1 744.9L647.4 750.0L653.0 750.9L658.7 738.6L664.4 726.4L671.9 711.2L678.0 702.2L685.1 704.1L689.9 697.6L694.6 705.6L700.3 717.9L703.7 726.7L710.6 709.7L716.9 706.5L722.0 716.5L726.7 725.4L730.5 729.2L735.8 741.5L740.9 743.9L747.5 743.0L751.3 735.4L755.0 729.2L758.8 722.6L762.2 709.4L765.4 696.1L769.2 692.3L773.0 679.5L776.8 664.0L780.6 658.3L784.3 650.8L788.1 654.6L790.6 653.6L793.8 656.5L796.6 657.4L801.3 666.8L805.1 658.7L809.8 654.6L812.7 658.0" fill="none" stroke="#cb9066" stroke-width="1.2" stroke-linejoin="round" stroke-linecap="round" opacity="1"/>
<circle cx="253.2" cy="815.4" r="3.9" fill="#d46c25"/>
<text x="261" y="819.1" font-size="10.0" fill="#7a7a7a">growth</text>
<circle cx="302.5" cy="815.4" r="3.9" fill="#2f9e6c"/>
<text x="310.4" y="819.1" font-size="10.0" fill="#7a7a7a">inngestbot</text>
<circle cx="366.4" cy="815.4" r="3.9" fill="#2f8ce0"/>
<text x="374.2" y="819.1" font-size="10.0" fill="#7a7a7a">github-pr-bot</text>
<line x1="876" y1="589.1" x2="1411.6" y2="589.1" stroke="#ececea" stroke-width="1"/>
<line x1="876" y1="615.7" x2="1411.6" y2="615.7" stroke="#ececea" stroke-width="1"/>
<line x1="876" y1="642.3" x2="1411.6" y2="642.3" stroke="#ececea" stroke-width="1"/>
<line x1="876" y1="668.9" x2="1411.6" y2="668.9" stroke="#ececea" stroke-width="1"/>
<line x1="876" y1="695.5" x2="1411.6" y2="695.5" stroke="#ececea" stroke-width="1"/>
<line x1="876" y1="722.1" x2="1411.6" y2="722.1" stroke="#ececea" stroke-width="1"/>
<line x1="876" y1="748.8" x2="1411.6" y2="748.8" stroke="#ececea" stroke-width="1"/>
<line x1="876" y1="775.5" x2="1411.6" y2="775.5" stroke="#a9a9a9" stroke-width="1.2"/>
<text x="873.5" y="593.40" font-size="8.4" fill="#6a6a6a" text-anchor="end">100M</text>
<text x="873.5" y="619.68" font-size="8.4" fill="#6a6a6a" text-anchor="end">10M</text>
<text x="873.5" y="645.96" font-size="8.4" fill="#6a6a6a" text-anchor="end">1M</text>
<text x="873.5" y="672.24" font-size="8.4" fill="#6a6a6a" text-anchor="end">100K</text>
<text x="873.5" y="698.52" font-size="8.4" fill="#6a6a6a" text-anchor="end">10K</text>
<text x="873.5" y="724.80" font-size="8.4" fill="#6a6a6a" text-anchor="end">100</text>
<text x="873.5" y="751.08" font-size="8.4" fill="#6a6a6a" text-anchor="end">10</text>
<text x="873.5" y="777.36" font-size="8.4" fill="#6a6a6a" text-anchor="end">1</text>
<line x1="915.6" y1="775.5" x2="915.6" y2="779.0" stroke="#a9a9a9" stroke-width="1"/>
<text x="915.6" y="792.6" font-size="8.6" fill="#555" text-anchor="middle" stroke="#555" stroke-width="0.3">18:00</text>
<line x1="1004.9" y1="775.5" x2="1004.9" y2="779.0" stroke="#a9a9a9" stroke-width="1"/>
<text x="1004.9" y="792.6" font-size="8.6" fill="#555" text-anchor="middle" stroke="#555" stroke-width="0.3">Jun 19</text>
<line x1="1094.7" y1="775.5" x2="1094.7" y2="779.0" stroke="#a9a9a9" stroke-width="1"/>
<text x="1094.7" y="792.6" font-size="8.6" fill="#555" text-anchor="middle" stroke="#555" stroke-width="0.3">06:00</text>
<line x1="1183.2" y1="775.5" x2="1183.2" y2="779.0" stroke="#a9a9a9" stroke-width="1"/>
<text x="1183.2" y="792.6" font-size="8.6" fill="#555" text-anchor="middle" stroke="#555" stroke-width="0.3">12:00</text>
<line x1="1270.8" y1="775.5" x2="1270.8" y2="779.0" stroke="#a9a9a9" stroke-width="1"/>
<text x="1270.8" y="792.6" font-size="8.6" fill="#555" text-anchor="middle" stroke="#555" stroke-width="0.3">18:00</text>
<line x1="1361" y1="775.5" x2="1361" y2="779.0" stroke="#a9a9a9" stroke-width="1"/>
<text x="1361" y="792.6" font-size="8.6" fill="#555" text-anchor="middle" stroke="#555" stroke-width="0.3">Jun 20</text>
<path d="M876.8 760.6L905.7 773.2L942.5 768.7L999.6 740.8L1050.2 768.7L1089.9 762.9L1122.9 740.8L1173.8 768.1L1293.8 768.1L1339.1 740.8L1379.7 768.1L1406.5 747.4L1411.8 751.7" fill="none" stroke="#6aa9d0" stroke-width="1.3" stroke-linejoin="round" stroke-linecap="round" opacity="1"/>
<path d="M876.8 740.8L891.5 711.8L918.3 756.8L958.6 697.7L1003.5 756.8L1054.9 756.4L1124.8 756.8L1130.0 755.8L1134.3 753.0L1140.0 747.5L1147.3 739.8L1158.7 722.8L1173.2 697.7L1206.8 745.1L1245.2 757.8L1295.6 697.7L1351.0 750.2L1394.5 706.2L1411.8 721.3" fill="none" stroke="#6faa90" stroke-width="1.3" stroke-linejoin="round" stroke-linecap="round" opacity="1"/>
<path d="M876.8 747.4L901.0 646.3L926.8 736.4L1017.1 735.7L1073.8 736.8L1126.3 736.4L1175.3 618.5L1207.8 713.0L1245.6 738.3L1294.7 618.5L1348.5 736.4L1380.7 732.6L1411.8 742.3" fill="none" stroke="#d29a70" stroke-width="1.3" stroke-linejoin="round" stroke-linecap="round" opacity="1"/>
<circle cx="855.2" cy="815.4" r="3.9" fill="#d46c25"/>
<text x="863" y="819.1" font-size="10.0" fill="#7a7a7a">growth</text>
<circle cx="904.5" cy="815.4" r="3.9" fill="#2f9e6c"/>
<text x="912.4" y="819.1" font-size="10.0" fill="#7a7a7a">inngestbot</text>
<circle cx="968.4" cy="815.4" r="3.9" fill="#2f8ce0"/>
<text x="976.2" y="819.1" font-size="10.0" fill="#7a7a7a">github-pr-bot</text>
<line x1="271.5" y1="908.3" x2="712" y2="908.3" stroke="#ececea" stroke-width="1"/>
<line x1="271.5" y1="934.9" x2="712" y2="934.9" stroke="#ececea" stroke-width="1"/>
<line x1="271.5" y1="961.4" x2="712" y2="961.4" stroke="#ececea" stroke-width="1"/>
<line x1="271.5" y1="987.9" x2="712" y2="987.9" stroke="#ececea" stroke-width="1"/>
<line x1="271.5" y1="1014.4" x2="712" y2="1014.4" stroke="#ececea" stroke-width="1"/>
<line x1="271.5" y1="1040.9" x2="712" y2="1040.9" stroke="#ececea" stroke-width="1"/>
<line x1="271.5" y1="1067.4" x2="712" y2="1067.4" stroke="#ececea" stroke-width="1"/>
<path d="M271.8 1002.5L279.5 1001.0L295.0 1000.1L310.6 1000.8L317.5 998.7L336.9 999.0L340.0 999.8L347.8 996.2L356.3 996.2L363.3 1002.9L369.5 1002.1L374.2 1003.6L388.2 1003.3L395.9 1006.4L409.9 1009.5L415.3 1009.8L421.5 1011.7L426.2 1011.1L437.8 994.3L444.0 992.0L451.8 992.8L456.9 980.8L466.5 991.7L471.2 992.0L474.3 990.4L478.2 971.5L488.5 962.1L492.9 970.5L497.0 970.5L501.0 964.3L504.2 971.8L513.1 962.4L518.8 972.9L522.9 968.5L537.4 966.9L548.8 964.8L565.0 962.1L576.3 962.9L582.8 964.8L594.1 962.1L600.6 960.4L610.3 959.1L618.4 958.3L623.3 960.0L645.9 960.0L652.4 961.1L675.1 961.1L680.0 959.5L694.5 960.0L701.8 963.2L709.1 961.1L711.5 962.1L711.5 1093.9L271.8 1093.9Z" fill="#fbf3e6" stroke="none"/>
<path d="M271.8 1003.6L279.5 1002.1L295.0 1001.6L310.6 1002.4L317.5 1000.2L336.9 1000.8L343.2 1003.2L357.1 1002.9L364.9 1003.9L374.2 1004.7L388.2 1004.4L395.9 1007.5L409.9 1010.6L422.3 1012.3L426.2 1011.7L434.7 1005.2L445.6 995.4L452.6 997.1L461.1 995.6L466.5 993.9L471.2 996.7L475.9 993.5L483.6 975.7L489.0 973.1L500.2 972.4L505.1 973.7L514.8 973.4L518.8 975.0L523.7 970.5L537.4 968.9L548.8 967.2L565.0 964.0L576.3 965.3L582.8 967.6L594.1 964.0L599.0 958.8L610.3 956.7L618.4 955.6L623.3 957.0L645.1 956.7L649.2 960.0L675.1 960.4L680.0 958.3L688.0 957.5L697.0 955.9L701.8 960.0L705.0 964.8L711.5 963.7L711.5 1093.9L271.8 1093.9Z" fill="#f3f6e8" stroke="none"/>
<line x1="271.5" y1="1093.9" x2="712" y2="1093.9" stroke="#a9a9a9" stroke-width="1.2"/>
<text x="268" y="912.30" font-size="8.4" fill="#6a6a6a" text-anchor="end">35 K</text>
<text x="268" y="938.66" font-size="8.4" fill="#6a6a6a" text-anchor="end">30 K</text>
<text x="268" y="965.02" font-size="8.4" fill="#6a6a6a" text-anchor="end">25 K</text>
<text x="268" y="991.38" font-size="8.4" fill="#6a6a6a" text-anchor="end">20 K</text>
<text x="268" y="1017.74" font-size="8.4" fill="#6a6a6a" text-anchor="end">15 K</text>
<text x="268" y="1044.10" font-size="8.4" fill="#6a6a6a" text-anchor="end">10 K</text>
<text x="268" y="1070.46" font-size="8.4" fill="#6a6a6a" text-anchor="end">5 K</text>
<text x="268" y="1096.82" font-size="8.4" fill="#6a6a6a" text-anchor="end">0 K</text>
<line x1="313.1" y1="1093.9" x2="313.1" y2="1097.4" stroke="#a9a9a9" stroke-width="1"/>
<text x="313.1" y="1111.6" font-size="8.6" fill="#555" text-anchor="middle" stroke="#555" stroke-width="0.3">18:00</text>
<line x1="382.6" y1="1093.9" x2="382.6" y2="1097.4" stroke="#a9a9a9" stroke-width="1"/>
<text x="382.6" y="1111.6" font-size="8.6" fill="#555" text-anchor="middle" stroke="#555" stroke-width="0.3">Jun 19</text>
<line x1="453.5" y1="1093.9" x2="453.5" y2="1097.4" stroke="#a9a9a9" stroke-width="1"/>
<text x="453.5" y="1111.6" font-size="8.6" fill="#555" text-anchor="middle" stroke="#555" stroke-width="0.3">06:00</text>
<line x1="522.7" y1="1093.9" x2="522.7" y2="1097.4" stroke="#a9a9a9" stroke-width="1"/>
<text x="522.7" y="1111.6" font-size="8.6" fill="#555" text-anchor="middle" stroke="#555" stroke-width="0.3">12:00</text>
<line x1="590.8" y1="1093.9" x2="590.8" y2="1097.4" stroke="#a9a9a9" stroke-width="1"/>
<text x="590.8" y="1111.6" font-size="8.6" fill="#555" text-anchor="middle" stroke="#555" stroke-width="0.3">18:00</text>
<line x1="661.4" y1="1093.9" x2="661.4" y2="1097.4" stroke="#a9a9a9" stroke-width="1"/>
<text x="661.4" y="1111.6" font-size="8.6" fill="#555" text-anchor="middle" stroke="#555" stroke-width="0.3">Jun 20</text>
<path d="M271.8 1003.6L279.5 1002.1L295.0 1001.6L310.6 1002.4L317.5 1000.2L336.9 1000.8L343.2 1003.2L357.1 1002.9L364.9 1003.9L374.2 1004.7L388.2 1004.4L395.9 1007.5L409.9 1010.6L422.3 1012.3L426.2 1011.7L434.7 1005.2L445.6 995.4L452.6 997.1L461.1 995.6L466.5 993.9L471.2 996.7L475.9 993.5L483.6 975.7L489.0 973.1L500.2 972.4L505.1 973.7L514.8 973.4L518.8 975.0L523.7 970.5L537.4 968.9L548.8 967.2L565.0 964.0L576.3 965.3L582.8 967.6L594.1 964.0L599.0 958.8L610.3 956.7L618.4 955.6L623.3 957.0L645.1 956.7L649.2 960.0L675.1 960.4L680.0 958.3L688.0 957.5L697.0 955.9L701.8 960.0L705.0 964.8L711.5 963.7" fill="none" stroke="#78b2aa" stroke-width="1.2" stroke-linejoin="round" stroke-linecap="round" opacity="1"/>
<path d="M271.8 1002.5L279.5 1001.0L295.0 1000.1L310.6 1000.8L317.5 998.7L336.9 999.0L340.0 999.8L347.8 996.2L356.3 996.2L363.3 1002.9L369.5 1002.1L374.2 1003.6L388.2 1003.3L395.9 1006.4L409.9 1009.5L415.3 1009.8L421.5 1011.7L426.2 1011.1L437.8 994.3L444.0 992.0L451.8 992.8L456.9 980.8L466.5 991.7L471.2 992.0L474.3 990.4L478.2 971.5L488.5 962.1L492.9 970.5L497.0 970.5L501.0 964.3L504.2 971.8L513.1 962.4L518.8 972.9L522.9 968.5L537.4 966.9L548.8 964.8L565.0 962.1L576.3 962.9L582.8 964.8L594.1 962.1L600.6 960.4L610.3 959.1L618.4 958.3L623.3 960.0L645.9 960.0L652.4 961.1L675.1 961.1L680.0 959.5L694.5 960.0L701.8 963.2L709.1 961.1L711.5 962.1" fill="none" stroke="#d3a07a" stroke-width="1.15" stroke-linejoin="round" stroke-linecap="round" opacity="1"/>
<circle cx="253.6" cy="1133.7" r="3.9" fill="#8b6ff6"/>
<text x="261.2" y="1137.4" font-size="10.0" fill="#7a7a7a">Started</text>
<circle cx="302.8" cy="1133.7" r="3.9" fill="#d46c25"/>
<text x="310.2" y="1137.4" font-size="10.0" fill="#7a7a7a">Queued</text>
<circle cx="355.3" cy="1133.7" r="3.9" fill="#2f9e6c"/>
<text x="363" y="1137.4" font-size="10.0" fill="#7a7a7a">Ended</text>
<line x1="774" y1="908.8" x2="1408.5" y2="908.8" stroke="#ececea" stroke-width="1"/>
<line x1="774" y1="935.3" x2="1408.5" y2="935.3" stroke="#ececea" stroke-width="1"/>
<line x1="774" y1="961.8" x2="1408.5" y2="961.8" stroke="#ececea" stroke-width="1"/>
<line x1="774" y1="988.3" x2="1408.5" y2="988.3" stroke="#ececea" stroke-width="1"/>
<line x1="774" y1="1014.8" x2="1408.5" y2="1014.8" stroke="#ececea" stroke-width="1"/>
<line x1="774" y1="1041.3" x2="1408.5" y2="1041.3" stroke="#ececea" stroke-width="1"/>
<line x1="774" y1="1067.8" x2="1408.5" y2="1067.8" stroke="#ececea" stroke-width="1"/>
<line x1="774" y1="1094.3" x2="1408.5" y2="1094.3" stroke="#a9a9a9" stroke-width="1.2"/>
<text x="769.5" y="912.30" font-size="8.4" fill="#6a6a6a" text-anchor="end">35 K</text>
<text x="769.5" y="938.70" font-size="8.4" fill="#6a6a6a" text-anchor="end">30 K</text>
<text x="769.5" y="965.10" font-size="8.4" fill="#6a6a6a" text-anchor="end">25 K</text>
<text x="769.5" y="991.50" font-size="8.4" fill="#6a6a6a" text-anchor="end">20 K</text>
<text x="769.5" y="1017.90" font-size="8.4" fill="#6a6a6a" text-anchor="end">15 K</text>
<text x="769.5" y="1044.30" font-size="8.4" fill="#6a6a6a" text-anchor="end">10 K</text>
<text x="769.5" y="1070.70" font-size="8.4" fill="#6a6a6a" text-anchor="end">5 K</text>
<text x="769.5" y="1097.10" font-size="8.4" fill="#6a6a6a" text-anchor="end">0 K</text>
<line x1="814.3" y1="1094.3" x2="814.3" y2="1097.8" stroke="#a9a9a9" stroke-width="1"/>
<text x="814.3" y="1111.6" font-size="8.6" fill="#555" text-anchor="middle" stroke="#555" stroke-width="0.3">18:00</text>
<line x1="903.5" y1="1094.3" x2="903.5" y2="1097.8" stroke="#a9a9a9" stroke-width="1"/>
<text x="903.5" y="1111.6" font-size="8.6" fill="#555" text-anchor="middle" stroke="#555" stroke-width="0.3">Jun 19</text>
<line x1="993.5" y1="1094.3" x2="993.5" y2="1097.8" stroke="#a9a9a9" stroke-width="1"/>
<text x="993.5" y="1111.6" font-size="8.6" fill="#555" text-anchor="middle" stroke="#555" stroke-width="0.3">06:00</text>
<line x1="1082.2" y1="1094.3" x2="1082.2" y2="1097.8" stroke="#a9a9a9" stroke-width="1"/>
<text x="1082.2" y="1111.6" font-size="8.6" fill="#555" text-anchor="middle" stroke="#555" stroke-width="0.3">12:00</text>
<line x1="1169.4" y1="1094.3" x2="1169.4" y2="1097.8" stroke="#a9a9a9" stroke-width="1"/>
<text x="1169.4" y="1111.6" font-size="8.6" fill="#555" text-anchor="middle" stroke="#555" stroke-width="0.3">18:00</text>
<line x1="1260" y1="1094.3" x2="1260" y2="1097.8" stroke="#a9a9a9" stroke-width="1"/>
<text x="1260" y="1111.6" font-size="8.6" fill="#555" text-anchor="middle" stroke="#555" stroke-width="0.3">Jun 20</text>
<path d="M772.9 1065.9L810.1 1088.8L854.6 1081.0L921.0 1036.9L981.1 1081.9L1026.7 1072.1L1066.4 1036.9L1125.9 1081.0L1267.0 1081.0L1321.1 1036.9L1369.5 1081.0L1400.9 1047.0L1408.7 1057.0" fill="none" stroke="#6aa9d0" stroke-width="1.3" stroke-linejoin="round" stroke-linecap="round" opacity="1"/>
<path d="M772.9 1059.9L792.9 1020.7L824.8 1070.3L872.7 1005.1L926.1 1070.6L986.7 1070.6L1066.8 1070.6L1074.0 1069.3L1080.2 1065.9L1087.0 1060.0L1094.0 1052.5L1100.7 1042.5L1125.2 1005.1L1165.3 1057.4L1210.5 1071.5L1269.9 1005.1L1335.2 1063.0L1386.4 1014.2L1408.7 1032.9" fill="none" stroke="#6faa90" stroke-width="1.3" stroke-linejoin="round" stroke-linecap="round" opacity="1"/>
<path d="M772.9 1045.8L794.7 964.6L826.3 1055.2L919.9 1055.2L953.3 1054.3L1026.7 1055.9L1064.6 1055.2L1123.6 936.7L1162.4 1031.4L1208.0 1056.5L1266.6 936.7L1331.2 1055.2L1369.0 1051.4L1408.7 1061.4" fill="none" stroke="#d29a70" stroke-width="1.3" stroke-linejoin="round" stroke-linecap="round" opacity="1"/>
<circle cx="754" cy="1133.7" r="3.9" fill="#d46c25"/>
<text x="761.8" y="1137.4" font-size="10.0" fill="#7a7a7a">growth</text>
<circle cx="803.3" cy="1133.7" r="3.9" fill="#2f9e6c"/>
<text x="811.2" y="1137.4" font-size="10.0" fill="#7a7a7a">inngestbot</text>
<circle cx="867.2" cy="1133.7" r="3.9" fill="#2f8ce0"/>
<text x="875" y="1137.4" font-size="10.0" fill="#7a7a7a">github-pr-bot</text>
</svg></body></html>
